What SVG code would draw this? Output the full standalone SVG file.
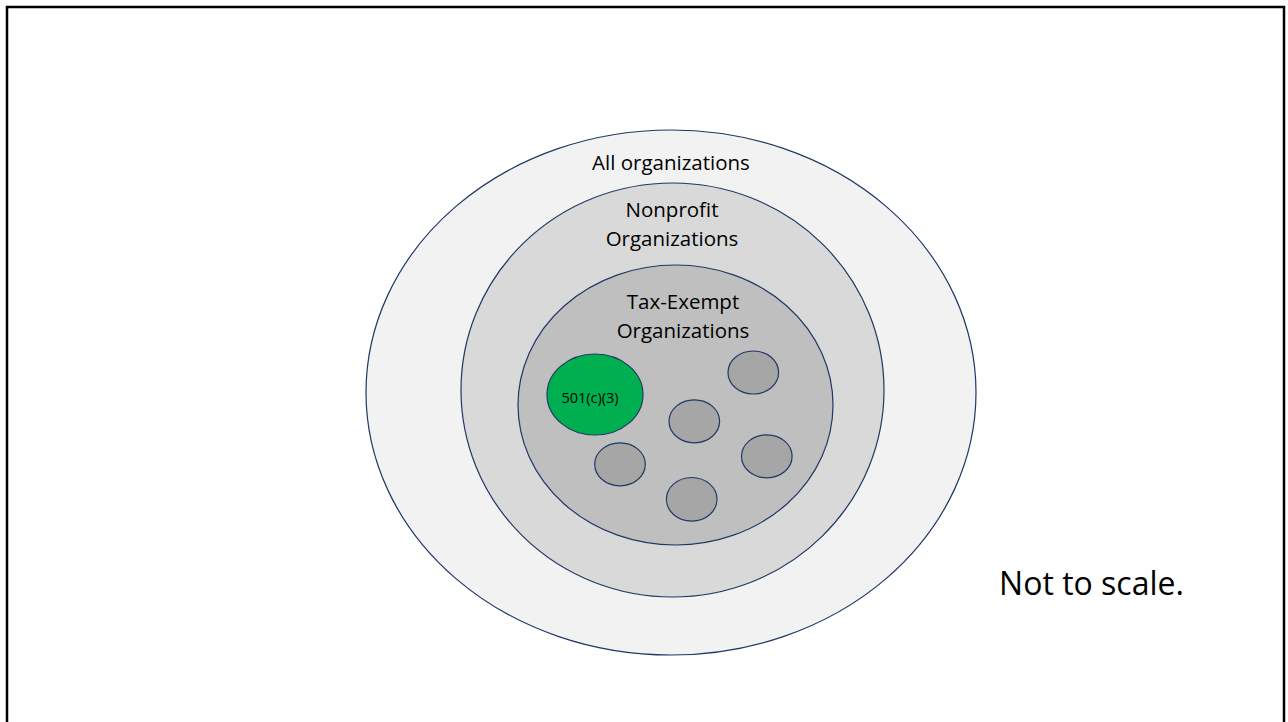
<svg xmlns="http://www.w3.org/2000/svg" width="1288" height="722" viewBox="0 0 1288 722">
<style>
.e{stroke:#1f3864;stroke-width:1.2}
.t{font-family:"Open Sans","Liberation Sans",sans-serif;fill:#000;text-anchor:middle}
.m{font-size:20.5px}
.s{fill:#a6a6a6}
</style>
<rect x="0" y="0" width="1288" height="722" fill="#fff"/>
<rect x="7" y="7" width="1277" height="730" fill="none" stroke="#000" stroke-width="2.5"/>
<g id="all">
<ellipse class="e" cx="671" cy="392.5" rx="305" ry="262.5" fill="#f2f2f2"/>
<text class="t m" x="671" y="170">All organizations</text>
</g>
<g id="nonprofit">
<ellipse class="e" cx="672.5" cy="390" rx="211.5" ry="207" fill="#d9d9d9"/>
<text class="t m" x="672" y="217">Nonprofit</text>
<text class="t m" x="672" y="246">Organizations</text>
</g>
<g id="taxexempt">
<ellipse class="e" cx="675.5" cy="405" rx="157.5" ry="140" fill="#bfbfbf"/>
<text class="t m" x="683" y="309">Tax-Exempt</text>
<text class="t m" x="683" y="338">Organizations</text>
</g>
<g id="c3">
<ellipse class="e" cx="595" cy="394.5" rx="48" ry="40.5" fill="#00b050"/>
<text class="t" x="590" y="402.5" font-size="14.5">501(c)(3)</text>
</g>
<g id="s1"><ellipse class="e s" cx="753.3" cy="372.5" rx="25.3" ry="21.5"/></g>
<g id="s2"><ellipse class="e s" cx="694.3" cy="421.3" rx="25.3" ry="21.5"/></g>
<g id="s3"><ellipse class="e s" cx="620" cy="464.3" rx="25.3" ry="21.5"/></g>
<g id="s4"><ellipse class="e s" cx="766.8" cy="456.3" rx="25.3" ry="21.5"/></g>
<g id="s5"><ellipse class="e s" cx="691.7" cy="499.3" rx="25.3" ry="21.8"/></g>
<g id="connectors"></g>
<text class="t" x="1091.5" y="595" font-size="32">Not to scale.</text>
</svg>
